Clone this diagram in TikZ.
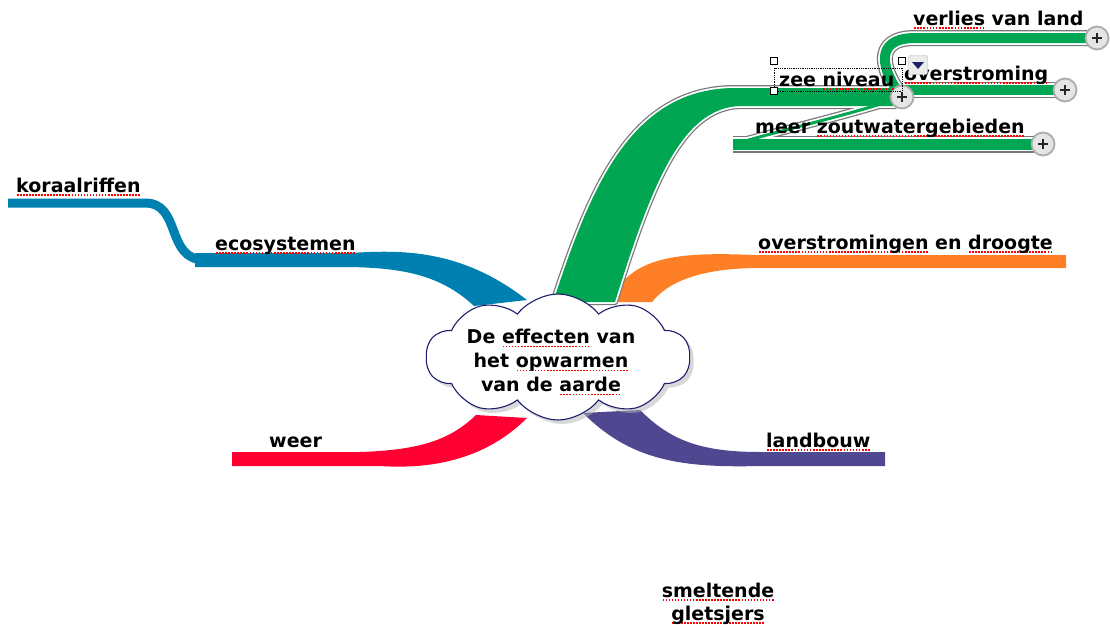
\documentclass[tikz,border=0pt]{standalone}
\usepackage{fontspec}
\setmainfont{DejaVu Sans}
\usetikzlibrary{shapes.symbols,shadows}
\definecolor{cblue}{RGB}{0,128,176}
\definecolor{cgreen}{RGB}{0,166,81}
\definecolor{corange}{RGB}{255,127,39}
\definecolor{cred}{RGB}{255,0,51}
\definecolor{cpurple}{RGB}{79,72,144}
\definecolor{cnavy}{RGB}{30,30,110}
\definecolor{cgray}{RGB}{120,120,120}
\newsavebox\ulbox
\newcommand\redul[1]{\sbox\ulbox{#1}\rlap{\raisebox{-4pt}{\color{red}\hbox to \wd\ulbox{\xleaders\hbox to 3pt{\hss\rule{1.6pt}{1.6pt}\hss}\hfill}}}\usebox\ulbox}
\begin{document}
\begin{tikzpicture}[x=1pt,y=-1pt,
  lbl/.style={font=\fontsize{19}{23}\selectfont\bfseries, inner sep=0pt, anchor=base west},
  plusc/.style={circle, minimum size=23pt, inner sep=0pt, fill=gray!20, draw=gray!65, line width=1.8pt,
    path picture={\draw[line width=1.4pt, gray!30!black]
      ([xshift=-5pt]path picture bounding box.center) -- ([xshift=5pt]path picture bounding box.center)
      ([yshift=-5pt]path picture bounding box.center) -- ([yshift=5pt]path picture bounding box.center);}},
  handle/.style={draw=black, fill=white, line width=0.8pt, minimum size=7pt, inner sep=0pt}]
\useasboundingbox (0,0) rectangle (1110,624);
\fill[white] (0,0) rectangle (1110,624);

% coordinates of expander buttons
\coordinate (pz) at (902,97);
\coordinate (pv) at (1097,38);
\coordinate (po) at (1065,90);
\coordinate (pm) at (1043,144);

% blue branch
\draw[cblue, line width=9pt] (8,203) -- (145,203) .. controls (182,203) and (165,260) .. (205,260);
\fill[cblue] (195,253) -- (350,253) .. controls (400,250) and (460,248) .. (527,300)
  -- (474,306) .. controls (440,274) and (400,268) .. (350,267) -- (195,267) -- cycle;

% orange branch
\fill[corange] (610,302) .. controls (630,255) and (680,252) .. (755,255) -- (1066,255)
  -- (1066,268) -- (760,268) .. controls (700,268) and (668,282) .. (652,302) -- cycle;

% red branch
\fill[cred] (232,452) -- (360,452) .. controls (420,450) and (450,440) .. (476,415)
  -- (527,418) .. controls (490,455) and (440,470) .. (380,466) -- (232,466) -- cycle;

% purple branch
\fill[cpurple] (583,413) .. controls (630,460) and (680,468) .. (760,466) -- (885,466)
  -- (885,452) -- (760,452) .. controls (700,452) and (670,440) .. (640,410) -- cycle;

% green branch (selected: outlined)
\path[save path=\gm] (553,302) .. controls (590,190) and (630,88) .. (735,88) -- (895,88)
  -- (895,106) -- (740,106) .. controls (680,108) and (650,190) .. (615,302) -- cycle;
\path[save path=\gv] (pz) .. controls (882,72) and (872,38) .. (915,38) -- (pv);
\path[save path=\go] (904,90) -- (po);
\path[save path=\gc] (pz) .. controls (860,112) and (790,128) .. (738,143);
\path[save path=\gmb] (733,144) -- (pm);
% gray outline pass
\path[draw=cgray, line width=6pt, line join=round, use path=\gm];
\path[draw=cgray, line width=16pt, use path=\gv];
\path[draw=cgray, line width=16pt, use path=\go];
\path[draw=cgray, line width=9pt, use path=\gc];
\path[draw=cgray, line width=17pt, use path=\gmb];
% white pass
\path[draw=white, line width=3.5pt, line join=round, use path=\gm];
\path[draw=white, line width=13.5pt, use path=\gv];
\path[draw=white, line width=13.5pt, use path=\go];
\path[draw=white, line width=6.5pt, use path=\gc];
\path[draw=white, line width=14.5pt, use path=\gmb];
% green pass
\path[fill=cgreen, use path=\gm];
\path[draw=cgreen, line width=10pt, use path=\gv];
\path[draw=cgreen, line width=10pt, use path=\go];
\path[draw=cgreen, line width=3pt, use path=\gc];
\path[draw=cgreen, line width=11pt, use path=\gmb];

% central cloud
\node[cloud, cloud puffs=10, cloud puff arc=105, aspect=2.1, minimum width=264pt, minimum height=126pt,
  draw=cnavy, line width=1.1pt, fill=white,
  drop shadow={shadow xshift=4pt, shadow yshift=-4pt, fill=gray!60}] (c) at (558,357) {};
\node[font=\fontsize{19}{24}\selectfont\bfseries, align=center, inner sep=0pt] (t) at (551,362)
  {De \redul{effecten} van\\het \redul{opwarmen}\\van de \redul{aarde}};

% expander buttons
\node[plusc] (bz) at (pz) {};
\node[plusc] (bv) at (pv) {};
\node[plusc] (bo) at (po) {};
\node[plusc] (bm) at (pm) {};

% labels
\node[lbl] (koraal) at (16,192) {\redul{koraalriffen}};
\node[lbl] (eco) at (215,250) {\redul{ecosystemen}};
\node[lbl] (overdr) at (758,249) {\redul{overstromingen} en \redul{droogte}};
\node[lbl] (weer) at (269,447) {weer};
\node[lbl] (land) at (766,447) {\redul{landbouw}};
\node[lbl] (verlies) at (913,25) {\redul{verlies} van land};
\node[lbl] (overst) at (904,80) {\redul{overstroming}};
\node[lbl] (meer) at (755,133) {meer \redul{zoutwatergebieden}};
\node[lbl] (zee) at (779,86) {zee \redul{niveau}};
\node[font=\fontsize{19}{23}\selectfont\bfseries, align=center, inner sep=0pt, anchor=base] (smelt) at (718,620)
  {\redul{smeltende}\\\redul{gletsjers}};

% selection box around "zee niveau"
\draw[densely dotted, line width=0.8pt] (774,68) rectangle (902,91);
\node[handle] (h1) at (774,61) {};
\node[handle] (h2) at (902,61) {};
\node[handle] (h3) at (774,91) {};
\node[draw=gray!60, fill=gray!15, rounded corners=2pt, minimum size=19pt, inner sep=0pt] (dd) at (918,65) {};
\fill[cnavy] ([shift={(-6,-3)}]dd.center) -- ([shift={(6,-3)}]dd.center) -- ([shift={(0,4)}]dd.center) -- cycle;
\end{tikzpicture}
\end{document}
